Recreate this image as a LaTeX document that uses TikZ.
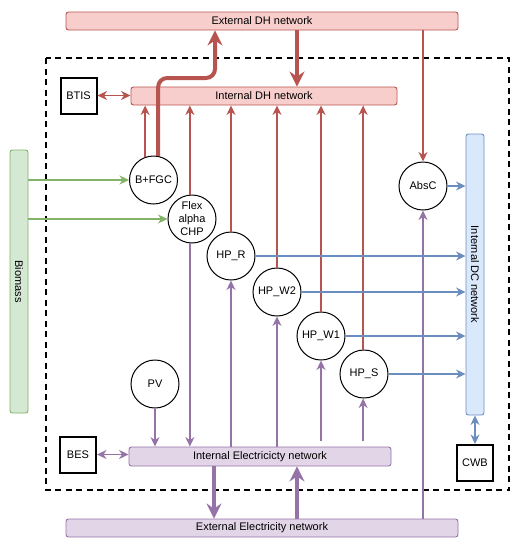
\documentclass[tikz,border=0pt]{standalone}
\usepackage{fontspec}
\setmainfont{Liberation Sans}
\usetikzlibrary{arrows.meta,calc}
\definecolor{rs}{HTML}{B85450}\definecolor{rf}{HTML}{F8CECC}
\definecolor{ps}{HTML}{9673A6}\definecolor{pf}{HTML}{E1D5E7}
\definecolor{bs}{HTML}{6C8EBF}\definecolor{bf}{HTML}{DAE8FC}
\definecolor{gs}{HTML}{82B366}\definecolor{gf}{HTML}{D5E8D4}
\begin{document}
\begin{tikzpicture}[x=1pt,y=-1pt,
  every node/.style={font=\fontsize{11}{13}\selectfont, inner sep=0pt},
  net/.style={rounded corners=2.5pt, line width=0.9pt, minimum height=18pt},
  rednet/.style={net, draw=rs, fill=rf},
  purnet/.style={net, draw=ps, fill=pf},
  bluenet/.style={net, draw=bs, fill=bf, minimum height=0pt},
  greennet/.style={net, draw=gs, fill=gf, minimum height=0pt},
  unit/.style={circle, draw, line width=1pt, minimum size=48pt, align=center},
  store/.style={draw, line width=2pt, minimum size=36pt},
  tip/.style={-{Stealth[length=9.5pt,width=9pt,inset=3pt]}},
  tips/.style={{Stealth[length=9.5pt,width=9pt,inset=3pt]}-{Stealth[length=9.5pt,width=9pt,inset=3pt]}},
  bigtip/.style={-{Stealth[length=15pt,width=15pt,inset=5pt]}},
  thin/.style={line width=1.6pt},
  fat/.style={line width=4pt},
]
\useasboundingbox (0,0) rectangle (526,550);
% dashed system boundary
\draw[line width=1.8pt, dash pattern=on 6pt off 4.5pt] (46,58) rectangle (509,490);
% networks
\node[rednet, minimum width=392pt] (extdh) at (262,21) {External DH network};
\node[rednet, minimum width=266pt] (intdh) at (264,96) {Internal DH network};
\node[purnet, minimum width=262pt, minimum height=19pt] (intel) at (260,456.5) {Internal Electricicty network};
\node[purnet, minimum width=392pt] (extel) at (262,528) {External Electricity network};
\node[bluenet, minimum width=18pt, minimum height=281pt] (dc) at (475,274.5) {};
\node[rotate=-90] (dct) at (dc.center) {Internal DC network};
\node[greennet, minimum width=18pt, minimum height=263pt] (bio) at (19,281.5) {};
\node[rotate=-90] (biot) at (bio.center) {Biomass};
% storages
\node[store] (btis) at (78.5,95.5) {BTIS};
\node[store] (bes) at (78,454.5) {BES};
\node[store] (cwb) at (475,463) {CWB};
% units
\node[unit] (bfgc) at (153.5,180) {B+FGC};
\node[unit] (chp) at (192,219) {Flex\\alpha\\CHP};
\node[unit] (hpr) at (231,256) {HP\_R};
\node[unit] (hpw2) at (277,292) {HP\_W2};
\node[unit] (hpw1) at (321,336) {HP\_W1};
\node[unit] (hps) at (364,374) {HP\_S};
\node[unit] (absc) at (423,186) {AbsC};
\node[unit] (pv) at (155,384) {PV};
% red (heat)
\begin{scope}[draw=rs, color=rs]
\draw[thin, tips] (btis.east) -- (btis.east -| intdh.west);
\draw[fat, bigtip] (extdh.south -| 297,0) -- (intdh.north -| 297,0);
\coordinate (bend) at (215,78);
\draw[fat, bigtip, rounded corners=9pt] (bfgc.79) |- (bend) -- (extdh.south -| bend);
\draw[thin, tip] (bfgc.110) -- (bfgc.110 |- intdh.south);
\draw[thin, tip] (chp.95) -- (chp.95 |- intdh.south);
\draw[thin, tip] (hpr.north) -- (hpr.north |- intdh.south);
\draw[thin, tip] (hpw2.north) -- (hpw2.north |- intdh.south);
\draw[thin, tip] (hpw1.north) -- (hpw1.north |- intdh.south);
\draw[thin, tip] (hps.92) -- (hps.92 |- intdh.south);
\draw[thin, tip] (absc.north |- extdh.south) -- (absc.north);
\end{scope}
% purple (electricity)
\begin{scope}[draw=ps, color=ps]
\draw[thin, tips] (bes.east) -- (bes.east -| intel.west);
\draw[fat, bigtip] (intel.south -| 214,0) -- (extel.north -| 214,0);
\draw[fat, bigtip] (extel.north -| 297,0) -- (intel.south -| 297,0);
\draw[thin, tip] (chp.265) -- (chp.265 |- intel.north);
\draw[thin, tip] (pv.south) -- (pv.south |- intel.north);
\draw[thin, tip] (intel.north -| hpr.south) -- (hpr.south);
\draw[thin, tip] (intel.north -| hpw2.south) -- (hpw2.south);
\draw[thin, tip] ([yshift=6pt]intel.north -| hpw1.south) -- (hpw1.south);
\draw[thin, tip] ([yshift=6pt]intel.north -| hps.268) -- (hps.268);
\draw[thin, tip] (extel.north -| absc.south) -- (absc.south);
\end{scope}
% blue (cooling)
\begin{scope}[draw=bs, color=bs]
\draw[thin, tip] (absc.east) -- (absc.east -| dc.west);
\draw[thin, tip] (hpr.east) -- (hpr.east -| dc.west);
\draw[thin, tip] (hpw2.east) -- (hpw2.east -| dc.west);
\draw[thin, tip] (hpw1.east) -- (hpw1.east -| dc.west);
\draw[thin, tip] (hps.east) -- (hps.east -| dc.west);
\draw[thin, tips] (dc.south) -- (cwb.north);
\end{scope}
% green (biomass)
\begin{scope}[draw=gs, color=gs]
\draw[thin, tip] (bio.east |- bfgc.west) -- (bfgc.west);
\draw[thin, tip] (bio.east |- chp.west) -- (chp.west);
\end{scope}
\end{tikzpicture}
\end{document}
